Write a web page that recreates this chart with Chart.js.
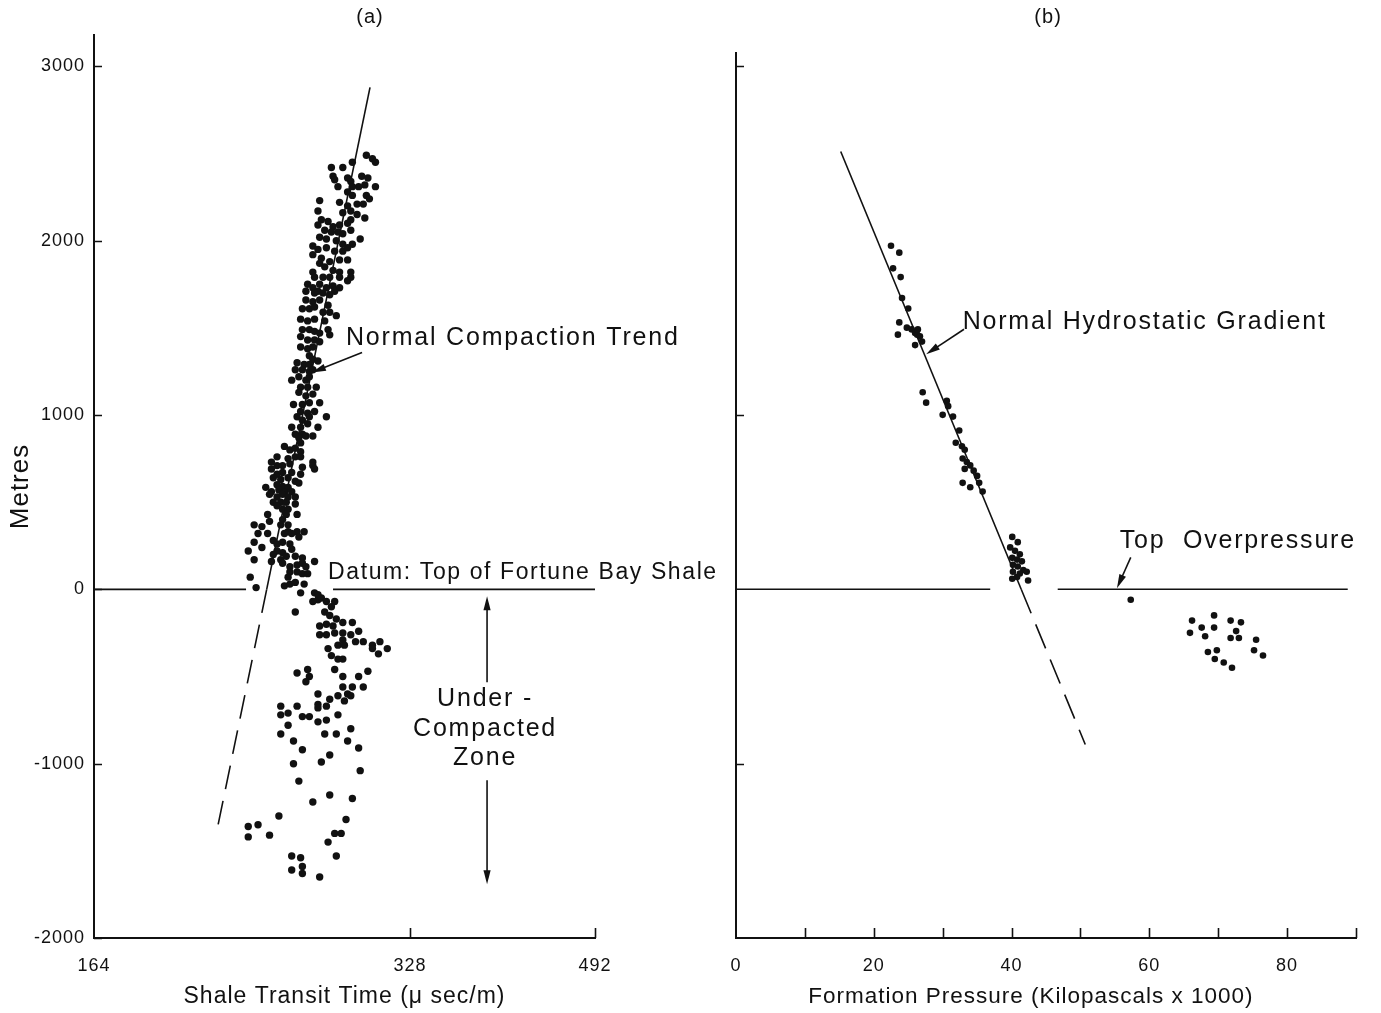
<!DOCTYPE html>
<html>
<head>
<meta charset="utf-8">
<script src="https://cdn.jsdelivr.net/npm/chart.js@4.4.1/dist/chart.umd.min.js"></script>
<style>
  html, body { margin: 0; padding: 0; background: #fff; overflow: hidden; }
  #wrapA { position: absolute; left: 0; top: 0; }
  #wrapB { position: absolute; left: 714px; top: 0; }
</style>
</head>
<body>
<div id="wrapA"><canvas id="chartA" width="740" height="1013"></canvas></div>
<div id="wrapB"><canvas id="chartB" width="662" height="1013"></canvas></div>
<script>
// (a) shale transit time (log axis) vs depth above/below datum
const transitTime = [
  298,302,304,276,283,289,277,278,286,288,295,299,
  304,297,293,289,280,286,289,298,300,269,281,286,
  292,296,268,283,288,292,297,270,274,277,281,286,
  288,268,272,276,280,283,288,269,273,279,283,289,
  294,265,268,273,278,283,286,265,270,275,281,286,
  269,272,277,281,288,265,266,271,275,281,288,286,
  262,265,269,273,277,281,261,268,271,278,266,275,
  261,265,269,274,279,259,263,266,271,275,258,262,
  266,272,274,275,259,263,266,269,258,262,266,269,
  258,262,265,263,265,268,256,260,263,255,259,263,
  265,253,257,261,263,267,258,262,257,261,265,254,
  259,263,269,258,262,266,273,256,259,263,253,258,
  262,268,255,259,265,
  257,261,258,249,252,255,258,245,251,255,258,242,
  245,248,252,259,265,265,266,242,245,248,253,258,
  243,247,251,255,245,248,251,257,239,242,246,249,
  253,241,245,248,251,255,243,247,250,245,248,251,
  255,256,250,240,241,248,233,237,247,251,235,240,
  251,256,260,249,253,257,233,237,243,245,248,252,
  245,248,253,230,233,243,247,250,255,259,266,248,
  252,256,259,242,252,256,261,231,251,259,262,
  234,249,252,255,260,258,266,268,268,265,270,273,
  278,276,272,255,275,279,283,277,273,269,289,293,
  288,283,278,273,269,283,280,284,291,296,302,307,
  312,306,302,274,276,280,283,278,283,283,289,293,
  299,296,256,262,263,261,268,275,280,286,288,284,
  268,268,273,247,256,247,251,259,263,268,273,280,
  251,247,254,259,272,279,286,288,293,294,254,257,
  270,275,265,275,289,246,285,230,235,230,241,278,
  282,274,279,253,258,253,259,259,269
];
const depthA = [
  2490,2470,2450,2420,2420,2450,2370,2350,2360,2340,2370,2360,
  2310,2320,2310,2310,2310,2280,2260,2260,2240,2230,2220,2200,
  2210,2210,2170,2160,2170,2150,2130,2120,2110,2080,2090,2100,
  2120,2090,2060,2050,2050,2040,2060,2020,2010,2000,1980,1980,
  2010,1970,1950,1960,1940,1940,1960,1920,1900,1880,1890,1890,
  1870,1850,1830,1820,1820,1820,1790,1790,1790,1790,1790,1770,
  1750,1730,1750,1730,1740,1730,1710,1710,1700,1710,1700,1690,
  1660,1650,1660,1630,1570,1610,1610,1620,1590,1590,1550,1540,
  1550,1540,1490,1460,1490,1490,1480,1470,1450,1430,1430,1420,
  1390,1380,1390,1340,1320,1310,1300,1290,1290,1260,1260,1250,
  1260,1200,1220,1200,1220,1160,1160,1160,1130,1110,1120,1060,
  1060,1070,1070,1020,1010,1020,990,990,970,990,930,930,
  950,930,890,890,880,
  870,880,840,820,800,810,790,760,750,760,760,730,
  710,710,720,700,730,710,690,690,660,670,670,660,
  640,630,640,620,600,590,585,610,585,560,570,556,
  560,545,530,545,530,530,500,500,500,480,460,460,
  490,430,430,430,390,400,370,360,370,370,320,320,
  330,330,330,320,320,300,270,240,280,260,270,260,
  220,210,230,220,170,200,170,190,190,180,160,150,
  130,140,150,160,100,100,130,70,70,90,90,
  10,20,30,40,30,-20,-20,-30,-60,-70,-50,-70,
  -70,-100,-130,-130,-150,-170,-190,-210,-200,-210,-190,-240,
  -260,-250,-250,-260,-260,-290,-320,-320,-300,-300,-320,-300,
  -340,-370,-340,-340,-380,-400,-400,-460,-500,-560,-560,-500,
  -470,-560,-480,-460,-500,-530,-600,-630,-610,-600,-610,-640,
  -660,-680,-670,-670,-670,-720,-710,-730,-730,-760,-750,-720,
  -780,-830,-870,-920,-830,-830,-870,-800,-910,-1040,-1000,-1100,
  -990,-950,-1220,-1180,-1200,-1300,-1320,-1360,-1350,-1420,-1410,-1400,
  -1400,-1450,-1530,-1530,-1540,-1610,-1590,-1630,-1650
];
const trendTimeSolid = [300.4, 239.5];
const trendDepthSolid = [2880, 0];
const trendTimeDash = [239.5, 215.3];
const trendDepthDash = [0, -1350];
const datumTimeLeft = [164, 228.9];
const datumTimeRight = [277.0, 492];

// (b) formation pressure vs depth
const pressure = [
  22.5,23.7,22.8,23.9,24.1,25.0,23.7,23.5,24.8,25.5,26.0,26.3,
  26.7,26.4,26.0,27.0,27.1,27.6,30.6,30.0,31.5,30.8,32.4,31.9,
  32.8,33.2,32.9,33.5,33.2,34.0,34.5,35.0,35.3,35.8,32.9,34.0,
  40.1,40.9,39.8,40.5,41.2,40.1,40.8,41.5,40.2,40.9,41.7,40.2,
  41.2,42.2,40.8,42.4,40.1,
  57.3,66.2,69.4,67.6,69.4,71.8,73.3,72.6,65.9,68.1,71.8,73.0,
  75.5,75.2,76.5,68.5,69.8,69.5,70.8,72.0
];
const depthB = [
  1970,1930,1840,1790,1670,1610,1530,1460,1500,1490,1470,1460,
  1450,1490,1400,1420,1130,1070,1080,1000,990,1050,910,840,
  820,800,750,730,690,710,680,650,610,560,610,585,
  300,270,240,220,200,180,170,160,140,130,110,100,
  90,100,70,50,60,
  -60,-180,-150,-220,-220,-180,-190,-240,-250,-270,-280,-280,
  -290,-350,-380,-360,-350,-400,-420,-450
];
const gradPressSolid = [15.2, 41.4];
const gradDepthSolid = [2510, 0];
const gradPressDash = [41.4, 50.7];
const gradDepthDash = [0, -890];
const datumPressLeft = [0, 36.9];
const datumPressRight = [46.7, 88.8];

// ticks
const xTicksA = [164, 328, 492];
const yTicksA = [-2000, -1000, 0, 1000, 2000, 3000];
const xTicksB = [0, 10, 20, 30, 40, 50, 60, 70, 80, 90];
const yTicksB = [-1000, 1000, 3000];

const ink = '#111';
const family = "'Liberation Sans', Arial, sans-serif";
Chart.defaults.font.family = family;
Chart.defaults.color = ink;

const pts = (xs, ys) => xs.map((x, i) => ({ x: x, y: ys[i] }));
const flat = (xs, ys, extra) => Object.assign({
  data: pts(xs, ys), showLine: true, pointRadius: 0,
  borderColor: ink, borderWidth: 1.6, fill: false
}, extra || {});

const spacing = {
  id: 'spacing',
  beforeDraw(chart) {
    if ('letterSpacing' in chart.ctx) chart.ctx.letterSpacing = '1px';
  }
};

const innerTicks = {
  id: 'innerTicks',
  afterDraw(chart, args, opts) {
    const { ctx, chartArea: a, scales: { x, y } } = chart;
    ctx.save();
    ctx.strokeStyle = ink;
    ctx.lineWidth = 1.6;
    ctx.beginPath();
    opts.x.forEach(v => {
      const px = Math.round(x.getPixelForValue(v)) + 0.5;
      ctx.moveTo(px, a.bottom);
      ctx.lineTo(px, a.bottom - opts.xLen);
    });
    opts.y.forEach(v => {
      const py = Math.round(y.getPixelForValue(v)) + 0.5;
      ctx.moveTo(a.left, py);
      ctx.lineTo(a.left + opts.yLen, py);
    });
    ctx.stroke();
    ctx.restore();
  }
};

const notes = {
  id: 'notes',
  afterDraw(chart, args, opts) {
    const { ctx, scales: { x, y } } = chart;
    ctx.save();
    ctx.fillStyle = ink;
    ctx.strokeStyle = ink;
    opts.texts.forEach(t => {
      ctx.font = t.size + 'px ' + family;
      if ('letterSpacing' in ctx) ctx.letterSpacing = t.spacing + 'px';
      ctx.textAlign = t.align || 'left';
      ctx.textBaseline = 'middle';
      ctx.fillText(t.text, x.getPixelForValue(t.x), y.getPixelForValue(t.y));
    });
    opts.arrows.forEach(a => {
      const x0 = x.getPixelForValue(a.from[0]), y0 = y.getPixelForValue(a.from[1]);
      const x1 = x.getPixelForValue(a.to[0]), y1 = y.getPixelForValue(a.to[1]);
      const ang = Math.atan2(y1 - y0, x1 - x0);
      const len = 14, half = 3.6;
      ctx.lineWidth = 1.6;
      ctx.beginPath();
      ctx.moveTo(x0, y0);
      ctx.lineTo(x1 - Math.cos(ang) * len * 0.8, y1 - Math.sin(ang) * len * 0.8);
      ctx.stroke();
      ctx.beginPath();
      ctx.moveTo(x1, y1);
      ctx.lineTo(x1 - Math.cos(ang) * len - Math.sin(ang) * half, y1 - Math.sin(ang) * len + Math.cos(ang) * half);
      ctx.lineTo(x1 - Math.cos(ang) * len + Math.sin(ang) * half, y1 - Math.sin(ang) * len - Math.cos(ang) * half);
      ctx.closePath();
      ctx.fill();
    });
    ctx.restore();
  }
};

const axisLine = { color: ink, width: 2 };
const setTicks = list => scale => { scale.ticks = list.map(v => ({ value: v })); };

new Chart(document.getElementById('chartA'), {
  type: 'scatter',
  data: {
    datasets: [
      { data: pts(transitTime, depthA), pointRadius: 3.7, pointBorderWidth: 0, pointBackgroundColor: ink },
      flat(trendTimeSolid, trendDepthSolid),
      flat(trendTimeDash, trendDepthDash, { borderDash: [24, 12] }),
      flat(datumTimeLeft, [0, 0]),
      flat(datumTimeRight, [0, 0])
    ]
  },
  options: {
    responsive: false,
    animation: false,
    events: [],
    layout: { padding: { left: 0, right: 145, top: 35, bottom: 0 } },
    plugins: {
      legend: { display: false },
      tooltip: { enabled: false },
      title: { display: false },
      innerTicks: { x: [328, 492], y: yTicksA, xLen: 10, yLen: 8 },
      notes: {
        texts: [
          { text: '(a)', x: 300.4, y: 3280, size: 20, spacing: 1, align: 'center' },
          { text: 'Normal Compaction Trend', x: 285.0, y: 1439, size: 25, spacing: 1.8 },
          { text: 'Datum: Top of Fortune Bay Shale', x: 274.0, y: 97, size: 23, spacing: 1.6 },
          { text: 'Under -', x: 386.6, y: -631, size: 25, spacing: 1.8, align: 'center' },
          { text: 'Compacted', x: 386.6, y: -803, size: 25, spacing: 1.8, align: 'center' },
          { text: 'Zone', x: 386.6, y: -969, size: 25, spacing: 1.8, align: 'center' }
        ],
        arrows: [
          { from: [295.2, 1359], to: [264.5, 1244] },
          { from: [388.3, -533], to: [388.3, -40] },
          { from: [388.3, -1095], to: [388.3, -1692] }
        ]
      }
    },
    scales: {
      x: {
        type: 'logarithmic', min: 164, max: 492,
        afterBuildTicks: setTicks(xTicksA),
        afterFit: s => { s.height = 75; },
        grid: { display: false, drawTicks: false },
        border: axisLine,
        ticks: { padding: 17, font: { size: 18 }, color: ink, autoSkip: false, maxRotation: 0, callback: v => String(v) },
        title: { display: true, text: 'Shale Transit Time (\u03BC sec/m)', color: ink, font: { size: 23 }, padding: { top: 0, bottom: 3 } }
      },
      y: {
        min: -2000, max: 3180,
        afterBuildTicks: setTicks(yTicksA),
        afterFit: s => { s.width = 94; },
        grid: { display: false, drawTicks: false },
        border: axisLine,
        ticks: { padding: 9, font: { size: 18 }, color: ink, callback: v => String(v) },
        title: { display: true, text: 'Metres', color: ink, font: { size: 26 }, padding: { top: 5, bottom: 0 } }
      }
    }
  },
  plugins: [spacing, innerTicks, notes]
});

new Chart(document.getElementById('chartB'), {
  type: 'scatter',
  data: {
    datasets: [
      { data: pts(pressure, depthB), pointRadius: 3.3, pointBorderWidth: 0, pointBackgroundColor: ink },
      flat(gradPressSolid, gradDepthSolid),
      flat(gradPressDash, gradDepthDash, { borderDash: [26, 12] }),
      flat(datumPressLeft, [0, 0]),
      flat(datumPressRight, [0, 0])
    ]
  },
  options: {
    responsive: false,
    animation: false,
    events: [],
    layout: { padding: { left: 0, right: 20, top: 53, bottom: 0 } },
    plugins: {
      legend: { display: false },
      tooltip: { enabled: false },
      title: { display: false },
      innerTicks: { x: xTicksB.slice(1), y: yTicksB, xLen: 10, yLen: 8 },
      notes: {
        texts: [
          { text: '(b)', x: 45.3, y: 3280, size: 20, spacing: 1, align: 'center' },
          { text: 'Normal Hydrostatic Gradient', x: 32.9, y: 1531, size: 25, spacing: 1.8 },
          { text: 'Top  Overpressure', x: 55.7, y: 275, size: 25, spacing: 1.8 },
          { text: 'Formation Pressure (Kilopascals x 1000)', x: 42.8, y: -2339, size: 22.5, spacing: 1, align: 'center' }
        ],
        arrows: [
          { from: [33.1, 1491], to: [27.6, 1347] },
          { from: [57.3, 183], to: [55.3, 6] }
        ]
      }
    },
    scales: {
      x: {
        type: 'linear', min: 0, max: 90,
        afterBuildTicks: setTicks(xTicksB),
        afterFit: s => { s.height = 75; },
        grid: { display: false, drawTicks: false },
        border: axisLine,
        ticks: { padding: 17, font: { size: 18 }, color: ink, autoSkip: false, maxRotation: 0,
                 callback: v => (v % 20 === 0 && v < 90) ? String(v) : '' },
        title: { display: false }
      },
      y: {
        min: -2000, max: 3075,
        afterBuildTicks: setTicks(yTicksB),
        afterFit: s => { s.width = 16; },
        grid: { display: false, drawTicks: false },
        border: axisLine,
        ticks: { display: false }
      }
    }
  },
  plugins: [spacing, innerTicks, notes]
});
</script>
</body>
</html>
